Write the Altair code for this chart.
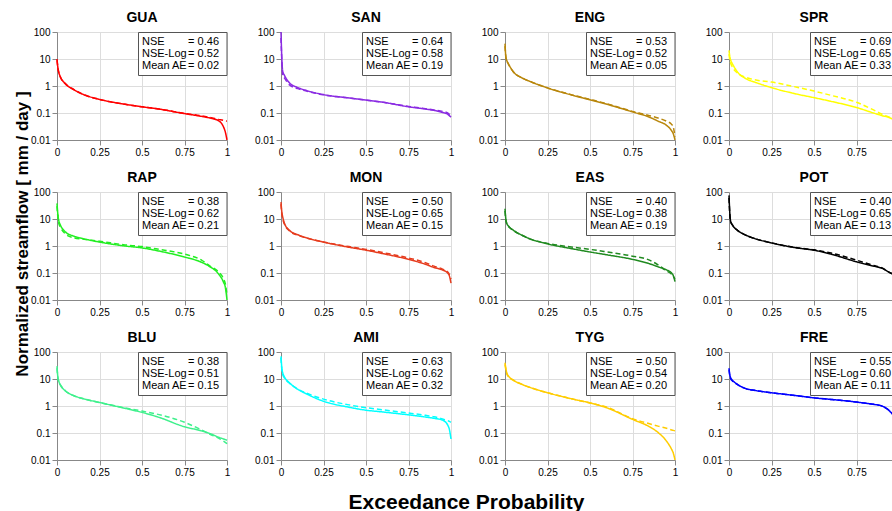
import altair as alt
import pandas as pd

FONT = "Liberation Sans"

STATIONS = ["GUA", "SAN", "ENG", "SPR", "RAP", "MON", "EAS", "POT", "BLU", "AMI", "TYG", "FRE"]
COLORS = ["#ff0000", "#8a2be2", "#b8860b", "#ffff00", "#22ee22", "#e63c1e",
          "#208a20", "#000000", "#3ff08c", "#00ffff", "#ffcc00", "#0000ff"]
NSE = ["0.46", "0.64", "0.53", "0.69", "0.38", "0.50", "0.40", "0.40", "0.38", "0.63", "0.50", "0.55"]
NSE_LOG = ["0.52", "0.58", "0.52", "0.65", "0.62", "0.65", "0.38", "0.65", "0.51", "0.62", "0.54", "0.60"]
MEAN_AE = ["0.02", "0.19", "0.05", "0.33", "0.21", "0.15", "0.19", "0.13", "0.15", "0.32", "0.20", "0.11"]

# exceedance probabilities
P = [0, 0.005, 0.01, 0.02, 0.05, 0.1, 0.15, 0.25, 0.4, 0.5, 0.6, 0.75, 0.85, 0.9, 0.95, 0.98, 0.99, 1.0]

gua_obs = [10, 5, 3.3, 2.2, 1.2, 0.72, 0.5, 0.32, 0.21, 0.17, 0.14, 0.095, 0.075, 0.065, 0.052, 0.03, 0.02, 0.01]
gua_sim = [9, 4.8, 3.2, 2.1, 1.2, 0.74, 0.5, 0.32, 0.21, 0.17, 0.14, 0.097, 0.078, 0.068, 0.058, 0.053, 0.051, 0.05]
san_obs = [100, 10, 3.5, 2.5, 1.3, 0.87, 0.68, 0.48, 0.36, 0.30, 0.25, 0.17, 0.14, 0.125, 0.105, 0.09, 0.08, 0.07]
san_sim = [60, 8, 2.5, 2.0, 1.1, 0.8, 0.65, 0.47, 0.36, 0.30, 0.25, 0.175, 0.145, 0.13, 0.115, 0.1, 0.09, 0.08]
eng_obs = [37, 12, 9, 6.7, 3.3, 2.0, 1.45, 0.85, 0.45, 0.31, 0.21, 0.11, 0.07, 0.05, 0.035, 0.022, 0.017, 0.01]
eng_sim = [30, 12, 9, 6.5, 3.3, 2.0, 1.45, 0.85, 0.46, 0.32, 0.22, 0.115, 0.08, 0.065, 0.05, 0.038, 0.03, 0.013]
spr_obs = [21, 12, 9, 6.7, 3.3, 1.85, 1.4, 0.87, 0.5, 0.37, 0.27, 0.16, 0.1, 0.08, 0.065, 0.05, 0.045, 0.04]
spr_sim = [15, 9, 7, 5.0, 3.0, 2.1, 1.7, 1.4, 0.9, 0.65, 0.45, 0.25, 0.13, 0.09, 0.066, 0.05, 0.045, 0.04]
rap_obs = [38, 15, 9, 6, 3.3, 2.3, 1.9, 1.4, 1.0, 0.85, 0.65, 0.39, 0.25, 0.17, 0.093, 0.045, 0.03, 0.01]
rap_sim = [30, 12, 7, 5, 2.8, 2.0, 1.8, 1.5, 1.1, 0.95, 0.75, 0.5, 0.3, 0.18, 0.11, 0.06, 0.04, 0.015]
mon_obs = [42, 18, 12, 7, 3.8, 2.6, 2.0, 1.4, 0.9, 0.7, 0.52, 0.32, 0.21, 0.16, 0.13, 0.1, 0.08, 0.042]
mon_sim = [35, 15, 10, 6.5, 3.6, 2.5, 2.0, 1.4, 0.95, 0.75, 0.57, 0.36, 0.24, 0.18, 0.14, 0.11, 0.09, 0.06]
eas_obs = [24, 10, 7, 5.5, 3.8, 2.5, 1.8, 1.2, 0.78, 0.6, 0.47, 0.32, 0.22, 0.17, 0.13, 0.1, 0.08, 0.048]
eas_sim = [20, 9, 7, 5.5, 3.7, 2.5, 1.8, 1.25, 0.9, 0.75, 0.6, 0.42, 0.3, 0.2, 0.12, 0.09, 0.075, 0.06]
pot_obs = [75, 16, 8, 6, 3.8, 2.5, 1.9, 1.3, 0.85, 0.7, 0.5, 0.26, 0.18, 0.15, 0.1, 0.085, 0.08, 0.075]
pot_sim = [60, 14, 8, 6, 3.8, 2.5, 1.9, 1.3, 0.86, 0.72, 0.55, 0.3, 0.19, 0.155, 0.1, 0.085, 0.08, 0.075]
blu_obs = [30, 12, 8.5, 6, 3.6, 2.4, 1.9, 1.35, 0.82, 0.58, 0.38, 0.17, 0.12, 0.095, 0.07, 0.06, 0.057, 0.054]
blu_sim = [25, 11, 8, 6, 3.6, 2.4, 1.9, 1.35, 0.85, 0.65, 0.48, 0.25, 0.13, 0.09, 0.065, 0.05, 0.045, 0.04]
ami_obs = [69, 25, 17, 12, 7.2, 4.1, 2.8, 1.5, 0.9, 0.7, 0.6, 0.47, 0.39, 0.35, 0.3, 0.2, 0.14, 0.06]
ami_sim = [60, 22, 15, 11, 7.0, 4.2, 3.0, 1.8, 1.1, 0.87, 0.72, 0.55, 0.45, 0.4, 0.33, 0.29, 0.27, 0.25]
tyg_obs = [40, 25, 17, 13, 9, 6.3, 4.8, 3.1, 1.8, 1.3, 0.85, 0.32, 0.17, 0.105, 0.05, 0.025, 0.018, 0.01]
tyg_sim = [35, 22, 16, 12, 9, 6.3, 4.8, 3.1, 1.8, 1.3, 0.9, 0.34, 0.22, 0.18, 0.15, 0.13, 0.125, 0.12]
fre_obs = [25, 14, 11, 9, 6.3, 4.4, 3.8, 3.1, 2.4, 2.0, 1.75, 1.4, 1.15, 1.0, 0.6, 0.35, 0.3, 0.25]
fre_sim = [22, 13, 10, 8.5, 6.2, 4.4, 3.8, 3.1, 2.4, 2.0, 1.75, 1.4, 1.15, 1.0, 0.62, 0.38, 0.32, 0.27]

OBS = [gua_obs, san_obs, eng_obs, spr_obs, rap_obs, mon_obs, eas_obs, pot_obs, blu_obs, ami_obs, tyg_obs, fre_obs]
SIM = [gua_sim, san_sim, eng_sim, spr_sim, rap_sim, mon_sim, eas_sim, pot_sim, blu_sim, ami_sim, tyg_sim, fre_sim]

X_TICKS = [0, 0.25, 0.5, 0.75, 1]
Y_TICKS = [0.01, 0.1, 1, 10, 100]

W, H = 170, 108
one_row = pd.DataFrame({"k": [0]})


def panel(i):
    n = len(P)
    df = pd.DataFrame({
        "p": P + P,
        "q": OBS[i] + SIM[i],
        "kind": ["Observed"] * n + ["Simulated"] * n,
    })
    xaxis_kw = dict(values=X_TICKS, labelExpr="format(datum.value, '~g')", labelFlush=False, title=None)
    yaxis_kw = dict(values=Y_TICKS, labelExpr="format(datum.value, '~g')", labelFlush=False, title=None)
    if STATIONS[i] == "AMI":
        xaxis_kw.update(title="Exceedance Probability", titleX=185, titleY=48,
                        titleAlign="center", titleBaseline="alphabetic",
                        titleFontSize=21, titleFontWeight="bold", titleFont=FONT,
                        titleColor="black")
    if STATIONS[i] == "RAP":
        yaxis_kw.update(title="Normalized streamflow  [ mm / day ]", titleX=-30, titleY=41.5,
                        titleAngle=270, titleAlign="center", titleBaseline="alphabetic",
                        titleFontSize=17, titleFontWeight="bold", titleFont=FONT,
                        titleColor="black")
    lines = alt.Chart(df).mark_line(color=COLORS[i], strokeWidth=1.5, interpolate="monotone").encode(
        x=alt.X("p:Q", scale=alt.Scale(domain=[0, 1], nice=False, zero=False), axis=alt.Axis(**xaxis_kw)),
        y=alt.Y("q:Q", scale=alt.Scale(type="log", domain=[0.01, 100], nice=False), axis=alt.Axis(**yaxis_kw)),
        strokeDash=alt.StrokeDash("kind:N", scale=alt.Scale(domain=["Observed", "Simulated"],
                                                              range=[[1, 0], [5, 3]]), legend=None),
    )
    box = alt.Chart(one_row).mark_rect(fill="white", stroke="#555555", strokeWidth=1).encode(
        x=alt.value(81.5), x2=alt.value(170), y=alt.value(0.5), y2=alt.value(43.5)
    )
    labels = alt.Chart(one_row).mark_text(
        text=["NSE", "NSE-Log", "Mean AE"], align="left", baseline="alphabetic",
        lineHeight=12.2, fontSize=11, font=FONT, color="black"
    ).encode(x=alt.value(85), y=alt.value(13))
    values = alt.Chart(one_row).mark_text(
        text=["= " + NSE[i], "= " + NSE_LOG[i], "= " + MEAN_AE[i]], align="right", baseline="alphabetic",
        lineHeight=12.2, fontSize=11, font=FONT, color="black"
    ).encode(x=alt.value(162), y=alt.value(13))
    title = alt.Chart(one_row).mark_text(
        text=STATIONS[i], align="center", baseline="alphabetic",
        fontSize=14, fontWeight="bold", font=FONT, color="black"
    ).encode(x=alt.value(W / 2), y=alt.value(-10))
    return alt.layer(lines, box, labels, values, title).properties(width=W, height=H)


panels = [panel(i) for i in range(len(STATIONS))]

chart = alt.concat(
    *panels, columns=4, spacing=alt.RowColnumber(row=52, column=54), bounds="flush"
).properties(
    autosize=alt.AutoSizeParams(type="none"),
    padding={"left": 57, "top": 32, "right": 835, "bottom": 479},
).configure_view(
    stroke="#333333", strokeWidth=1
).configure_axis(
    grid=True, gridDash=[1, 2], gridColor="#707070", gridWidth=1,
    domain=False, ticks=False, labelPadding=3,
    labelFont=FONT, labelFontSize=10.5, labelColor="black",
).configure(background="white")

chart.save("out.html", embed_options={"renderer": "svg", "actions": False})
